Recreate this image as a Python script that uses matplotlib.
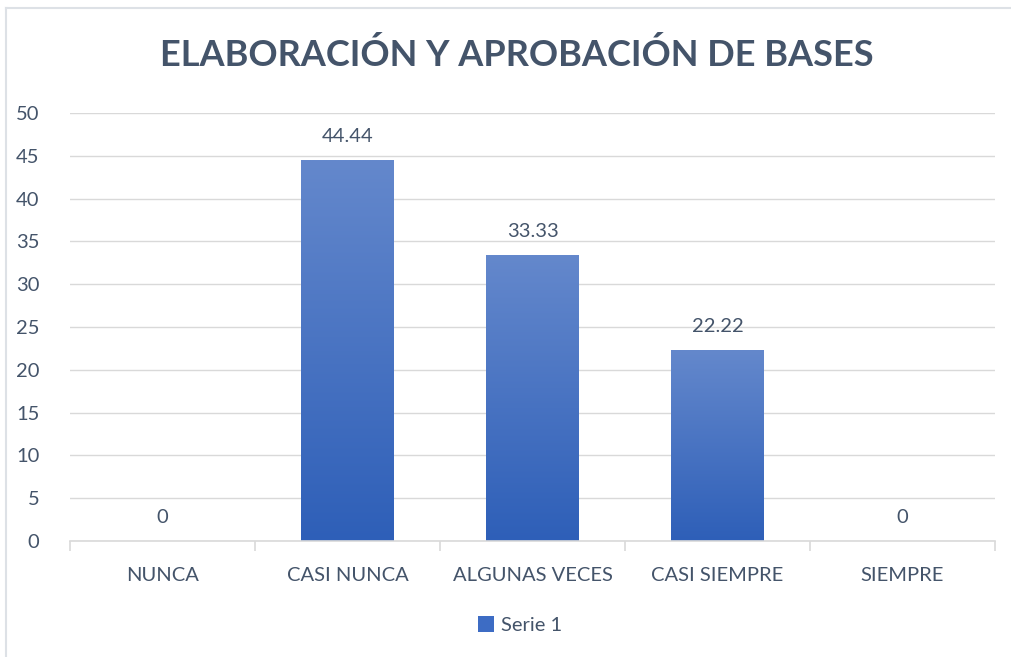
import matplotlib
matplotlib.use("Agg")
import matplotlib.pyplot as plt
import numpy as np
from matplotlib.lines import Line2D
from matplotlib.patches import Patch

categories = ["NUNCA", "CASI NUNCA", "ALGUNAS VECES", "CASI SIEMPRE", "SIEMPRE"]
values = [0, 44.44, 33.33, 22.22, 0]
labels = ["0", "44.44", "33.33", "22.22", "0"]
series_name = "Serie 1"
title = "ELABORACIÓN Y APROBACIÓN DE BASES"

W, H = 1012, 657
fig = plt.figure(figsize=(W / 100, H / 100), dpi=100)
plt.rcParams['font.family'] = ['Lato', 'DejaVu Sans']
text_color = "#44546A"
grid_color = "#D9D9D9"
fs = 14.5

# border (top and left only visible)
fig.add_artist(Line2D([6 / W, 1.0], [1 - 7.5 / H, 1 - 7.5 / H], transform=fig.transFigure,
                      color="#DDE1E6", linewidth=1.5))
fig.add_artist(Line2D([6.5 / W, 6.5 / W], [0, 1 - 7.5 / H], transform=fig.transFigure,
                      color="#DDE1E6", linewidth=1.5))

ax = fig.add_axes([70 / W, (H - 541) / H, (995 - 70) / W, (541 - 113) / H])
ax.set_yticks(np.arange(0, 51, 5))
ax.yaxis.grid(True, color=grid_color, linewidth=1)
ax.set_axisbelow(True)
for s in ["top", "right", "left"]:
    ax.spines[s].set_visible(False)
ax.spines["bottom"].set_color(grid_color)
ax.spines["bottom"].set_linewidth(1.2)

x = np.arange(len(categories))
bw = 0.5
top_c = np.array([100, 136, 204]) / 255
bot_c = np.array([46, 95, 184]) / 255
grad = np.linspace(0, 1, 256)[:, None]
cmap_img = (bot_c[None, None, :] * (1 - grad[:, :, None]) + top_c[None, None, :] * grad[:, :, None])

bars = ax.bar(x, values, width=bw, color="#3D6CC4", zorder=2)
for b in bars:
    h = b.get_height()
    if h > 0:
        b.set_facecolor("none")
        ax.imshow(cmap_img, extent=[b.get_x(), b.get_x() + b.get_width(), 0, h],
                  origin="lower", aspect="auto", zorder=2.5)
ax.set_xlim(-0.5, len(categories) - 0.5)
ax.set_ylim(0, 50)

for xi, v, lab in zip(x, values, labels):
    ax.text(xi, v + 1.8, lab, ha="center", va="bottom", fontsize=fs, color=text_color)

ax.set_xticks(x)
ax.set_xticklabels(categories, fontsize=fs, color=text_color)
ax.tick_params(axis="x", length=0, pad=19)
ax.set_xticks(np.arange(-0.5, len(categories), 1), minor=True)
ax.tick_params(axis="x", which="minor", length=7, color=grid_color, width=1.2)
ax.tick_params(axis="y", length=0, pad=22, labelsize=fs, labelcolor=text_color)

fig.text(517 / W, 1 - 55 / H, title, ha="center", va="center", fontsize=26,
         fontweight="bold", color=text_color)

handle = Patch(facecolor="#3D6CC4", edgecolor="none")
fig.legend([handle], [series_name], loc="center", bbox_to_anchor=(520 / W, 1 - 625 / H),
           frameon=False, fontsize=fs, labelcolor=text_color, handlelength=0.8,
           handleheight=0.8, handletextpad=0.3)

fig.savefig("out.png", dpi=100)
